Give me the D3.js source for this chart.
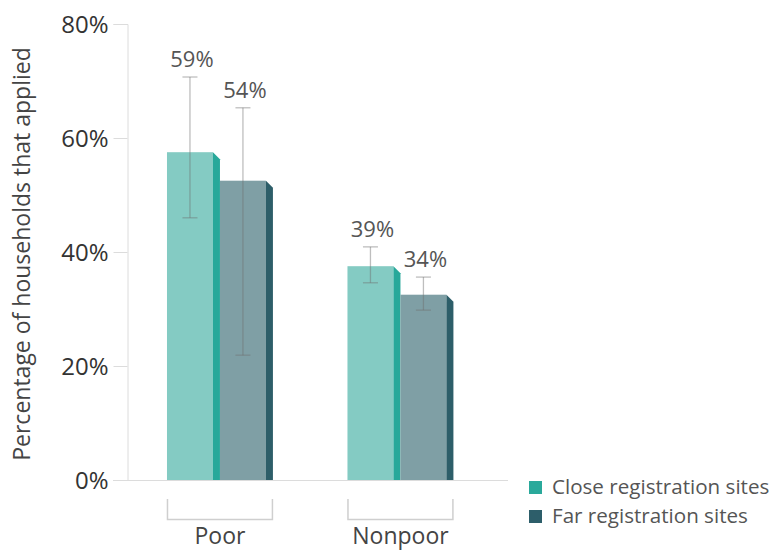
<!DOCTYPE html>
<html>
<head>
<meta charset="utf-8">
<script src="https://cdn.jsdelivr.net/npm/d3@7"></script>
<style>
  body { margin: 0; background: #fff; }
  text { font-family: "Open Sans", sans-serif; }
</style>
</head>
<body>
<svg id="chart" width="772" height="550"></svg>
<script>
// data (percent)
const groups = ["Poor", "Nonpoor"];
const series = ["Close registration sites", "Far registration sites"];
const closeVals = [59, 39];
const farVals = [54, 34];
const closeLow = [46.0, 34.6];
const closeHigh = [70.7, 40.9];
const farLow = [21.9, 29.8];
const farHigh = [65.3, 35.6];
const yTicks = [0, 20, 40, 60, 80];

const frontColors = ["#84cbc3", "#7f9fa5"];
const sideColors = ["#27a89a", "#2d5e69"];
const legendColors = ["#2aa99b", "#2d5e6a"];

const svg = d3.select("#chart");
const depth = 7, lift = 8.5;

// build rows for drawing
const rows = [];
groups.forEach((g, i) => {
    rows.push({group: g, s: series[0], v: closeVals[i], lo: closeLow[i], hi: closeHigh[i], k: 0});
    rows.push({group: g, s: series[1], v: farVals[i], lo: farLow[i], hi: farHigh[i], k: 1});
});

const y = d3.scaleLinear().domain([0, 80]).range([480, 24]);
const x = d3.scaleBand().domain(groups).range([128, 492.4]).paddingInner(0.413).paddingOuter(0.216);
const xs = d3.scaleBand().domain(series).range([0, x.bandwidth()]);

// y axis
const yAxis = d3.axisLeft(y).tickValues(yTicks).tickSize(14).tickPadding(5).tickFormat(d => d + "%");
const ga = svg.append("g").attr("transform", "translate(127.5,0)").call(yAxis);
ga.select(".domain").attr("stroke", "#dcdcdc");
ga.selectAll(".tick line").attr("stroke", "#dcdcdc");
ga.selectAll(".tick text").attr("fill", "#333").style("font-size", "24px").attr("dy", "0.35em");

// baseline
svg.append("line")
    .attr("x1", 113).attr("x2", 508)
    .attr("y1", y(0) + 0.5).attr("y2", y(0) + 0.5)
    .attr("stroke", "#dcdcdc");

// y title
svg.append("text")
    .attr("transform", "translate(30," + 254 + ") rotate(-90)")
    .attr("text-anchor", "middle")
    .attr("fill", "#444")
    .style("font-size", "23px")
    .text("Percentage of households that applied");

// bars
const bars = svg.append("g").selectAll("g").data(rows).enter().append("g")
    .attr("transform", d => "translate(" + (x(d.group) + xs(d.s)) + ",0)");

const fw = xs.bandwidth() - depth;

bars.append("rect")
    .attr("x", 0)
    .attr("y", d => y(d.v) + lift)
    .attr("width", fw)
    .attr("height", d => y(0) - y(d.v) - lift)
    .attr("fill", d => frontColors[d.k]);

bars.append("path")
    .attr("d", d => {
        const t = y(d.v) + lift;
        return "M" + fw + "," + t + "L" + (fw + depth) + "," + (t + depth) +
            "L" + (fw + depth) + "," + y(0) + "L" + fw + "," + y(0) + "Z";
    })
    .attr("fill", d => sideColors[d.k]);

// error bars
const cx = fw / 2;
const eb = bars.append("g").attr("stroke", "#6f6f6f").attr("stroke-opacity", 0.45).attr("stroke-width", 1.3);
eb.append("line").attr("x1", cx).attr("x2", cx).attr("y1", d => y(d.hi)).attr("y2", d => y(d.lo));
eb.append("line").attr("x1", cx - 7.5).attr("x2", cx + 7.5).attr("y1", d => y(d.hi)).attr("y2", d => y(d.hi));
eb.append("line").attr("x1", cx - 7.5).attr("x2", cx + 7.5).attr("y1", d => y(d.lo)).attr("y2", d => y(d.lo));

// value labels
bars.append("text")
    .attr("x", cx + 2)
    .attr("y", d => y(d.hi) - 10)
    .attr("text-anchor", "middle")
    .attr("fill", "#555")
    .style("font-size", "22px")
    .text(d => d.v + "%");

// group brackets
const br = svg.append("g").selectAll("g").data(groups).enter().append("g");
br.append("path")
    .attr("d", g => "M" + (x(g) + 0.5) + ",499V519.5H" + (x(g) + x.bandwidth() - 0.5) + "V499")
    .attr("fill", "none")
    .attr("stroke", "#cfcfcf")
    .attr("stroke-width", 1.5);
br.append("text")
    .attr("x", g => x(g) + x.bandwidth() / 2)
    .attr("y", 544)
    .attr("text-anchor", "middle")
    .attr("fill", "#444")
    .style("font-size", "23px")
    .text(g => g);

// legend
const lg = svg.append("g").selectAll("g").data(series).enter().append("g")
    .attr("transform", (d, i) => "translate(529," + (481 + i * 29) + ")");
lg.append("rect").attr("width", 13).attr("height", 13).attr("fill", (d, i) => legendColors[i]);
lg.append("text")
    .attr("x", 23).attr("y", 13)
    .attr("fill", "#555")
    .style("font-size", "20.6px")
    .text(d => d);
</script>
</body>
</html>
